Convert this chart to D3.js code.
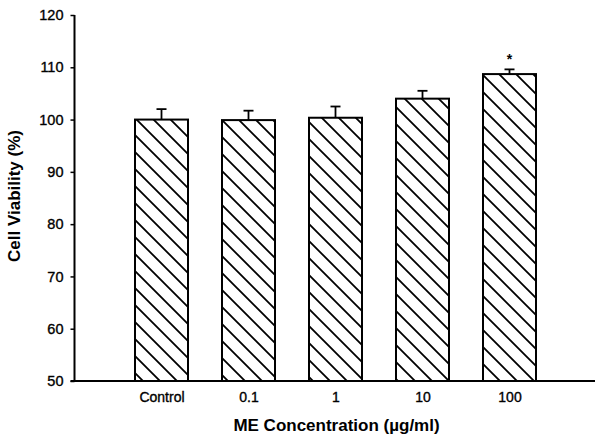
<!DOCTYPE html>
<html>
<head>
<meta charset="utf-8">
<script src="https://cdn.jsdelivr.net/npm/d3@7"></script>
<style>
  body { margin: 0; background: #fff; }
  svg text { font-family: "Liberation Sans", Arial, sans-serif; fill: #000; }
</style>
</head>
<body>
<div id="chart"></div>
<script>
document.addEventListener("DOMContentLoaded", () => {
    const width = 595, height = 438;

    // data
    const categories = ["Control", "0.1", "1", "10", "100"];
    const viability = [100.0, 99.9, 100.35, 104.0, 108.7];
    const errorTop = [102.0, 101.7, 102.5, 105.5, 109.6];
    const significant = [false, false, false, false, true];
    const yTicks = [50, 60, 70, 80, 90, 100, 110, 120];

    const barWidth = 53, capWidth = 10;

    const svg = d3.select("#chart")
        .append("svg")
        .attr("width", width)
        .attr("height", height);

    // hatch pattern for the bars
    const pattern = svg.append("defs")
        .append("pattern")
        .attr("id", "hatch")
        .attr("patternUnits", "userSpaceOnUse")
        .attr("width", 17)
        .attr("height", 17);
    pattern.append("rect").attr("width", 17).attr("height", 17).attr("fill", "#fff");
    pattern.append("path")
        .attr("d", "M-4,13 L4,21 M0,0 L17,17 M13,-4 L21,4")
        .attr("stroke", "#000")
        .attr("stroke-width", 1.8);

    const x = d3.scaleLinear().domain([0, categories.length + 1]).range([74.5, 596.5]);
    const y = d3.scaleLinear().domain([50, 120]).range([381, 15]);

    // bars
    svg.selectAll("rect.bar")
        .data(viability)
        .enter()
        .append("rect")
        .attr("class", "bar")
        .attr("x", (d, i) => x(i + 1) - barWidth / 2)
        .attr("y", d => y(d))
        .attr("width", barWidth)
        .attr("height", d => y(50) - y(d))
        .attr("fill", "url(#hatch)")
        .attr("stroke", "#000")
        .attr("stroke-width", 2);

    // upper error bars
    const err = svg.selectAll("g.err")
        .data(errorTop)
        .enter()
        .append("g")
        .attr("class", "err")
        .attr("stroke", "#000")
        .attr("stroke-width", 1.8);
    err.append("line")
        .attr("x1", (d, i) => x(i + 1))
        .attr("x2", (d, i) => x(i + 1))
        .attr("y1", (d, i) => y(viability[i]))
        .attr("y2", d => y(d));
    err.append("line")
        .attr("x1", (d, i) => x(i + 1) - capWidth / 2)
        .attr("x2", (d, i) => x(i + 1) + capWidth / 2)
        .attr("y1", d => y(d))
        .attr("y2", d => y(d));

    // significance marker
    svg.selectAll("text.star")
        .data(errorTop.map((d, i) => ({ d, i })).filter(o => significant[o.i]))
        .enter()
        .append("text")
        .attr("class", "star")
        .attr("x", o => x(o.i + 1))
        .attr("y", o => y(o.d) - 5)
        .attr("text-anchor", "middle")
        .attr("font-size", 14)
        .attr("font-weight", "bold")
        .text("*");

    // y axis
    const yAxis = svg.append("g")
        .attr("transform", `translate(${x(0)},0)`)
        .call(d3.axisLeft(y).tickValues(yTicks).tickSize(4).tickPadding(7));
    yAxis.select(".domain").attr("stroke-width", 2).attr("d", `M0,${y(120)}V${y(50)}`);
    yAxis.selectAll(".tick line").attr("stroke-width", 1.5);
    yAxis.selectAll(".tick text")
        .attr("font-size", 14.5)
        .attr("font-family", "Liberation Sans, Arial, sans-serif")
        .attr("stroke", "#000")
        .attr("stroke-width", 0.35);

    // x axis
    const xAxis = svg.append("g")
        .attr("transform", `translate(0,${y(50)})`)
        .call(d3.axisBottom(x)
            .tickValues(categories.map((c, i) => i + 1))
            .tickFormat((d) => categories[d - 1])
            .tickSize(0)
            .tickPadding(11));
    xAxis.select(".domain").attr("stroke-width", 2).attr("d", `M${x(0) - 4},0H${x(categories.length + 1)}`);
    xAxis.selectAll(".tick text")
        .attr("font-size", 14)
        .attr("font-family", "Liberation Sans, Arial, sans-serif")
        .attr("stroke", "#000")
        .attr("stroke-width", 0.35);

    // axis titles
    svg.append("text")
        .attr("x", 336.5)
        .attr("y", 431)
        .attr("text-anchor", "middle")
        .attr("font-size", 17)
        .attr("font-weight", "bold")
        .text("ME Concentration (\u00b5g/ml)");

    svg.append("text")
        .attr("transform", "translate(20,196) rotate(-90)")
        .attr("text-anchor", "middle")
        .attr("font-size", 17)
        .attr("font-weight", "bold")
        .text("Cell Viability (%)");
});
</script>
</body>
</html>
